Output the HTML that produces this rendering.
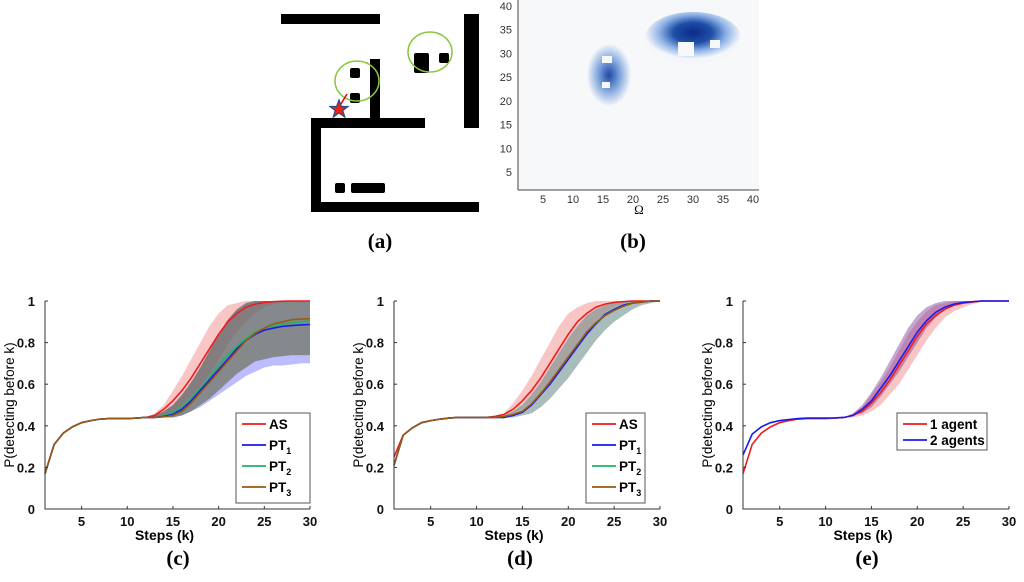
<!DOCTYPE html>
<html><head><meta charset="utf-8">
<style>
html,body{margin:0;padding:0;background:#fff;}
svg{display:block;font-family:"Liberation Sans",sans-serif;}
.tick{font-size:13px;font-weight:bold;fill:#111;}
.lab{font-family:"Liberation Serif",serif;font-size:21px;font-weight:bold;fill:#000;}
</style></head>
<body>
<svg id="fig" width="1024" height="582" viewBox="0 0 1024 582" xmlns="http://www.w3.org/2000/svg">
  <g>
    <rect x="281" y="14" width="99" height="10" fill="#000"/>
    <rect x="464" y="14" width="15" height="114" fill="#000"/>
    <rect x="370" y="59" width="10" height="64" fill="#000"/>
    <rect x="311" y="118" width="114" height="10" fill="#000"/>
    <rect x="311" y="118" width="10" height="94" fill="#000"/>
    <rect x="311" y="202" width="168" height="10" fill="#000"/>
    <rect x="350" y="68" width="10" height="10" rx="2" fill="#000"/>
    <rect x="350" y="93" width="10" height="10" rx="2" fill="#000"/>
    <rect x="414" y="53" width="15" height="20" rx="2" fill="#000"/>
    <rect x="439" y="53" width="10" height="10" rx="2" fill="#000"/>
    <rect x="335" y="183" width="10" height="10" rx="2" fill="#000"/>
    <rect x="351" y="183" width="34" height="10" rx="2" fill="#000"/>
    <ellipse cx="357" cy="81" rx="22" ry="20" fill="none" stroke="#8dc63f" stroke-width="1.5"/>
    <ellipse cx="430" cy="52" rx="22" ry="20" fill="none" stroke="#8dc63f" stroke-width="1.5"/>
    <line x1="341" y1="104" x2="347" y2="94" stroke="#e00" stroke-width="1.5"/>
    <polygon points="339,100 341.4,106.5 348,106.5 342.8,110.5 344.8,117 339,113 333.2,117 335.2,110.5 330,106.5 336.6,106.5" fill="#e21" stroke="#2a4a8a" stroke-width="1.2"/>
  </g>
  <text x="380" y="248" text-anchor="middle" class="lab">(a)</text>
  <g>
    <defs>
      <radialGradient id="g1" cx="50%" cy="40%" r="50%">
        <stop offset="0" stop-color="#0b2a86"/><stop offset="0.4" stop-color="#1e4fa8"/><stop offset="0.7" stop-color="#8fb2e6"/><stop offset="1" stop-color="#f4f6fa"/>
      </radialGradient>
      <radialGradient id="g2" cx="50%" cy="50%" r="50%">
        <stop offset="0" stop-color="#1f48a6"/><stop offset="0.5" stop-color="#7fa5dc"/><stop offset="1" stop-color="#f4f6fa"/>
      </radialGradient>
    </defs>
    <rect x="518" y="0" width="241" height="190" fill="#f7f8fa"/>
    <ellipse cx="693" cy="38" rx="48" ry="26" fill="url(#g1)"/>
    <rect x="678" y="42" width="16" height="14" fill="#f7f8fa"/>
    <rect x="710" y="40" width="10" height="8" fill="#f7f8fa"/>
    <ellipse cx="609" cy="75" rx="22" ry="31" fill="url(#g2)"/>
    <rect x="602" y="56" width="10" height="7" fill="#f7f8fa"/>
    <rect x="602" y="82" width="8" height="6" fill="#f7f8fa"/>
    <line x1="518" y1="0" x2="518" y2="190" stroke="#444"/>
    <line x1="518" y1="190" x2="759" y2="190" stroke="#444"/>
    <g id="btick" style="font-size:11px;fill:#333"></g>
    <text x="639" y="214" text-anchor="middle" style="font-size:13px;font-family:'Liberation Serif',serif">Ω</text>
  </g>
  <text x="633" y="248" text-anchor="middle" class="lab">(b)</text>
  <g id="chartC"></g>
  <g id="chartD"></g>
  <g id="chartE"></g>
  <text x="178" y="565" text-anchor="middle" class="lab">(c)</text>
  <text x="520" y="565" text-anchor="middle" class="lab">(d)</text>
  <text x="867" y="565" text-anchor="middle" class="lab">(e)</text>
</svg>
<script>
const steps = Array.from({length:30},(_,i)=>i+1);
const xTicks = [5,10,15,20,25,30];
const yTicks = [0,0.2,0.4,0.6,0.8,1];
const yTickLabels = ["0","0.2","0.4","0.6","0.8","1"];
const heatTicks = [5,10,15,20,25,30,35,40];

const baseC = [.17,.31,.365,.395,.415,.425,.432,.435,.435,.435,.437,.44];
const cAS    = [...baseC,.45,.48,.52,.57,.63,.70,.77,.84,.90,.94,.97,.985,.993,.997,.999,1,1,1];
const cASlo  = [...baseC,.44,.45,.47,.50,.54,.59,.65,.72,.79,.85,.90,.94,.97,.985,.993,.997,1,1];
const cAShi  = [...baseC,.46,.50,.57,.64,.72,.80,.88,.94,.98,.99,1,1,1,1,1,1,1,1];
const cPT1   = [...baseC,.44,.445,.455,.48,.52,.57,.62,.67,.72,.77,.81,.84,.86,.87,.878,.882,.885,.887];
const cPT1lo = [...baseC,.44,.44,.44,.45,.47,.49,.52,.55,.58,.61,.64,.66,.68,.69,.69,.695,.70,.70];
const cPThi  = [...baseC,.45,.47,.50,.55,.61,.68,.76,.84,.91,.96,.99,1,1,1,1,1,1,1];
const cPT2   = [...baseC,.44,.45,.465,.49,.53,.58,.63,.69,.74,.78,.82,.85,.87,.88,.89,.895,.9,.905];
const cPT3   = [...baseC,.44,.443,.45,.47,.51,.56,.61,.66,.71,.76,.81,.845,.87,.89,.90,.91,.913,.915];
const cPT3lo = [...baseC,.44,.44,.44,.45,.47,.50,.53,.57,.61,.65,.68,.71,.72,.73,.735,.74,.74,.74];

const baseDAS = [.25,.355,.39,.415,.425,.432,.437,.44,.44,.44,.44,.445];
const baseDPT = [.21,.355,.39,.415,.425,.432,.437,.44,.44,.44,.44,.44];
const dAS    = [...baseDAS,.455,.48,.52,.57,.63,.70,.77,.84,.90,.94,.97,.985,.993,.997,1,1,1,1];
const dASlo  = [...baseDAS,.45,.46,.48,.51,.55,.60,.66,.72,.79,.85,.90,.94,.97,.985,.995,1,1,1];
const dAShi  = [...baseDAS,.46,.51,.57,.64,.72,.80,.88,.94,.97,.99,1,1,1,1,1,1,1,1];
const dPT1   = [...baseDPT,.44,.45,.465,.50,.55,.60,.66,.72,.78,.84,.89,.935,.96,.98,.99,.995,1,1];
const dPT2   = [...baseDPT,.44,.45,.47,.505,.55,.61,.67,.73,.79,.84,.89,.93,.955,.975,.99,.995,1,1];
const dPT3   = [...baseDPT,.445,.455,.47,.505,.555,.61,.67,.73,.79,.85,.895,.93,.955,.975,.99,.995,1,1];
const dPTlo  = [...baseDPT,.44,.44,.45,.46,.49,.53,.58,.63,.69,.75,.81,.86,.90,.93,.96,.98,.99,1];
const dPThi  = [...baseDPT,.45,.47,.50,.55,.61,.68,.75,.82,.88,.93,.96,.98,.99,1,1,1,1,1];

const baseE1 = [.17,.31,.365,.395,.415,.425,.432,.435,.435,.435,.437,.44];
const baseE2 = [.26,.36,.395,.415,.425,.43,.435,.437,.437,.437,.438,.44];
const e1     = [...baseE1,.45,.47,.51,.56,.62,.69,.76,.83,.89,.93,.96,.98,.99,.995,1,1,1,1];
const e1lo   = [...baseE1,.44,.45,.47,.50,.55,.60,.67,.74,.81,.87,.92,.95,.97,.985,.995,1,1,1];
const e1hi   = [...baseE1,.46,.49,.55,.61,.68,.76,.84,.90,.95,.98,.99,1,1,1,1,1,1,1];
const e2     = [...baseE2,.45,.48,.52,.58,.64,.71,.78,.85,.905,.945,.97,.985,.993,.997,1,1,1,1];
const e2lo   = [...baseE2,.45,.46,.49,.54,.60,.66,.73,.80,.87,.92,.96,.98,.99,1,1,1,1,1];
const e2hi   = [...baseE2,.46,.50,.56,.63,.71,.79,.87,.93,.97,.99,1,1,1,1,1,1,1,1];

const NS="http://www.w3.org/2000/svg";
function mk(tag,attrs,parent){const e=document.createElementNS(NS,tag);for(const k in attrs)e.setAttribute(k,attrs[k]);parent.appendChild(e);return e;}

(function(){
  const g=document.getElementById('btick');
  const hx=v=>513+v*6, hy=v=>172-(v-5)*4.743;
  heatTicks.forEach(v=>{
    const t=mk('text',{x:hx(v),y:203,'text-anchor':'middle'},g);t.textContent=v;
    
    
    const u=mk('text',{x:512,y:hy(v)+4,'text-anchor':'end'},g);u.textContent=v;
    
    
  });
})();

function chart(id,x0,x1,bands,lines,legend){
  const g=document.getElementById(id);
  const y0=509,y1=301;
  const X=k=>x0+(k-1)*(x1-x0)/29, Y=v=>y0-v*(y0-y1);
  bands.forEach(b=>{
    let d='M'+steps.map((k,i)=>X(k)+','+Y(b.hi[i])).join('L');
    for(let i=steps.length-1;i>=0;i--) d+='L'+X(steps[i])+','+Y(b.lo[i]);
    const p=mk('path',{d:d+'Z',fill:b.color,'fill-opacity':b.op,stroke:'none'},g);
    
    
  });
  lines.forEach(l=>{
    const p=mk('polyline',{points:steps.map((k,i)=>X(k)+','+Y(l.v[i])).join(' '),fill:'none',stroke:l.color,'stroke-width':1.6},g);
    
    
  });
  const ax=mk('path',{d:`M${x0},${y1}V${y0}H${x1}`,fill:'none',stroke:'#333','stroke-width':1},g);
  
  
  xTicks.forEach(k=>{
    mk('line',{x1:X(k),x2:X(k),y1:y0,y2:y0-3,stroke:'#333'},g);
    const t=mk('text',{x:X(k),y:y0+17,'text-anchor':'middle','class':'tick'},g);t.textContent=k;
    
    
  });
  yTicks.forEach((v,i)=>{
    mk('line',{x1:x0,x2:x0+3,y1:Y(v),y2:Y(v),stroke:'#333'},g);
    const t=mk('text',{x:x0-10,y:Y(v)+5,'text-anchor':'end','class':'tick'},g);t.textContent=yTickLabels[i];
    
    
  });
  const xl=mk('text',{x:(x0+x1)/2-13,y:y0+31,'text-anchor':'middle',style:'font-size:14px;font-weight:bold'},g);xl.textContent='Steps (k)';
  
  
  const yl=mk('text',{x:0,y:0,'text-anchor':'middle',style:'font-size:13.5px',transform:`translate(${x0-31},${(y0+y1)/2}) rotate(-90)`},g);yl.textContent='P(detecting before k)';
  
  
  const L=legend;
  const lb=mk('rect',{x:L.x,y:L.y,width:L.w,height:L.h,fill:'#fff',stroke:'#555'},g);
  
  
  L.items.forEach((it,i)=>{
    const yy=L.y+11+i*L.dy;
    mk('line',{x1:L.x+6,x2:L.x+30,y1:yy,y2:yy,stroke:it.color,'stroke-width':1.8},g);
    const t=mk('text',{x:L.x+33,y:yy+5,style:'font-size:13.5px;font-weight:bold'},g);
    
    
    t.textContent=it.label;
    if(it.sub){const s=mk('tspan',{dy:4,style:'font-size:9px'},t);s.textContent=it.sub;}
  });
}
const RED='#ee1c1c',BLUE='#1a1aee',GREEN='#1db464',BROWN='#9a5a10';
chart('chartC',45,310,
  [{lo:cASlo,hi:cAShi,color:'#f07070',op:.4},{lo:cPT1lo,hi:cPThi,color:'#6a6aff',op:.45},{lo:cPT3lo,hi:cPThi,color:'#3d6a4a',op:.45},{lo:cPT3lo,hi:cPThi,color:'#8a6a40',op:.3}],
  [{v:cAS,color:RED},{v:cPT2,color:GREEN},{v:cPT1,color:BLUE},{v:cPT3,color:BROWN}],
  {x:236,y:413,w:74,h:90,dy:21,items:[{label:'AS',color:RED},{label:'PT',sub:'1',color:BLUE},{label:'PT',sub:'2',color:GREEN},{label:'PT',sub:'3',color:BROWN}]});
chart('chartD',394,660,
  [{lo:dASlo,hi:dAShi,color:'#f07070',op:.4},{lo:dPTlo,hi:dPThi,color:'#5aa070',op:.4},{lo:dPTlo,hi:dPThi,color:'#6a6aa0',op:.25}],
  [{v:dAS,color:RED},{v:dPT2,color:GREEN},{v:dPT1,color:BLUE},{v:dPT3,color:BROWN}],
  {x:586,y:413,w:59,h:90,dy:21,items:[{label:'AS',color:RED},{label:'PT',sub:'1',color:BLUE},{label:'PT',sub:'2',color:GREEN},{label:'PT',sub:'3',color:BROWN}]});
chart('chartE',743,1009,
  [{lo:e1lo,hi:e1hi,color:'#f28a8a',op:.5},{lo:e2lo,hi:e2hi,color:'#7a3a9a',op:.45}],
  [{v:e1,color:RED},{v:e2,color:BLUE}],
  {x:897,y:413,w:90,h:37,dy:16,items:[{label:'1 agent',color:RED},{label:'2 agents',color:BLUE}]});
</script>
</body></html>
